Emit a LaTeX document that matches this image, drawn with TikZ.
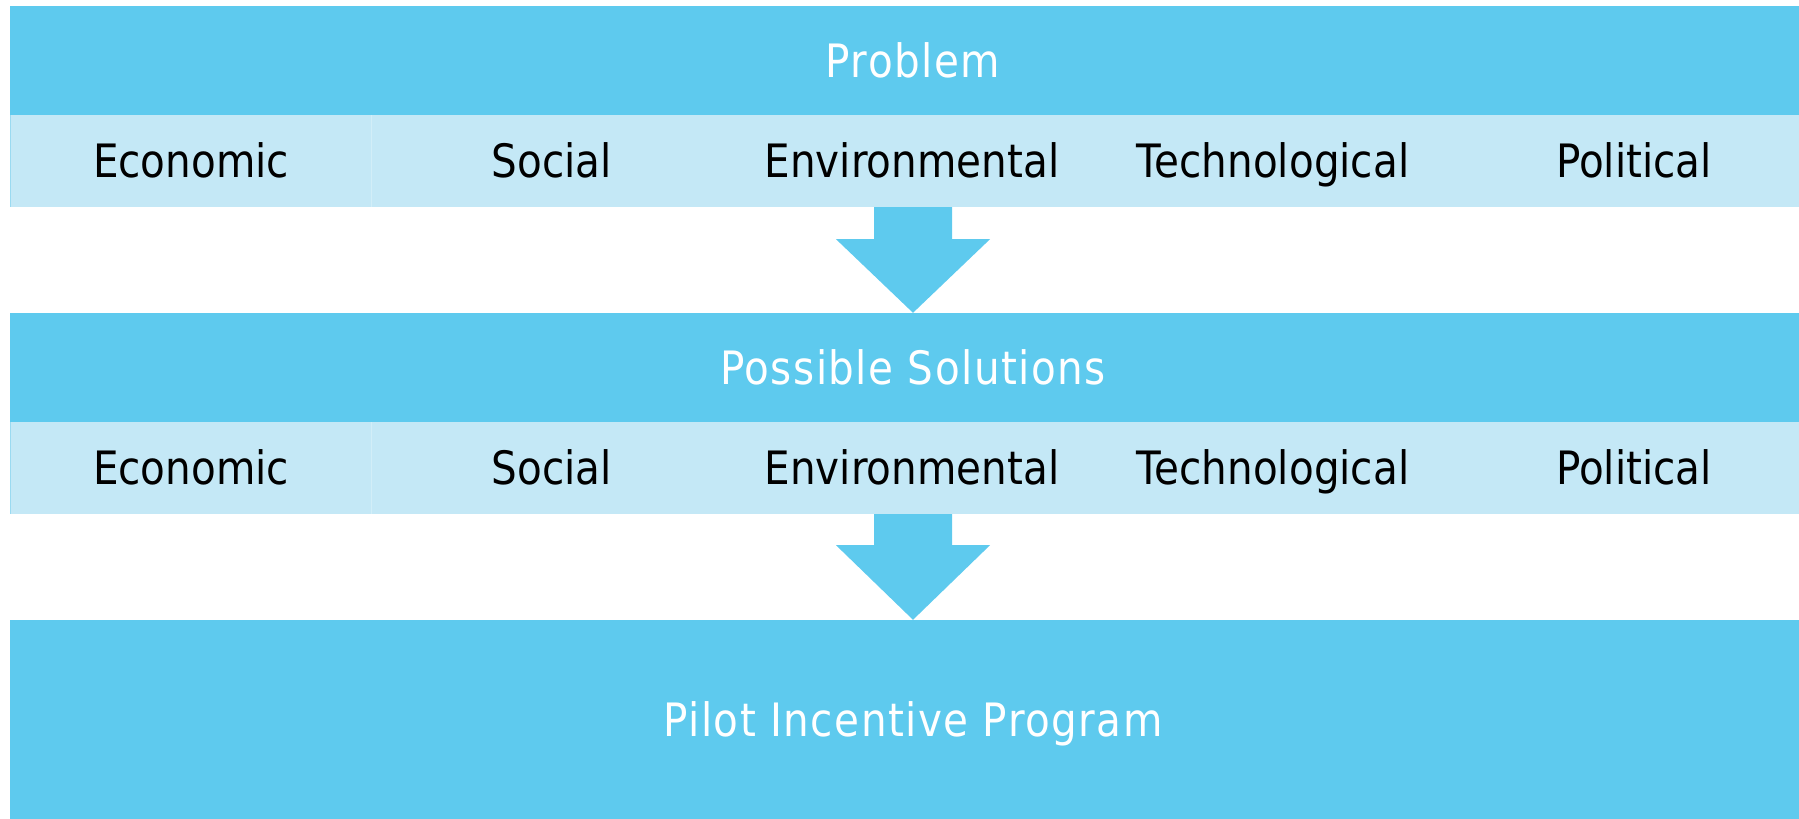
\documentclass[tikz,border=0pt]{standalone}
\usepackage{fontspec}
\setmainfont[FakeStretch=0.88]{DejaVu Sans}
\newfontfamily\bandfont[FakeStretch=0.88,LetterSpace=3.2]{DejaVu Sans}
\usetikzlibrary{calc}
\definecolor{bandblue}{HTML}{5ECAEE}
\definecolor{rowblue}{HTML}{C4E8F6}
\definecolor{rowedge}{HTML}{9ADAF1}
\definecolor{rowsep}{HTML}{D2EEF8}
\tikzset{
  band/.style={fill=bandblue, draw=none, minimum width=1806pt, inner sep=0pt,
    text=white, text height=33pt, text depth=0pt,
    font=\bandfont\fontsize{46pt}{50pt}\selectfont},
  lightrow/.style={fill=rowblue, draw=none, minimum width=1806pt, minimum height=92pt, inner sep=0pt},
  celltext/.style={inner sep=0pt, text=black, text height=33pt, text depth=0pt,
    font=\fontsize{46pt}{50pt}\selectfont},
  blockarrow/.style={fill=bandblue, draw=none}
}
\begin{document}
\begin{tikzpicture}[x=1pt,y=-1pt]
\useasboundingbox (0,0) rectangle (1799,819);
\clip (0,0) rectangle (1799,819);
% bands
\node[band, minimum height=109pt] (prob) at (913,60.5) {Problem};
\node[lightrow] (row1) at (913,161) {};
\node[band, minimum height=109pt] (sol) at (913,367.5) {Possible Solutions};
\node[lightrow] (row2) at (913,468) {};
\node[band, minimum height=199pt] (pilot) at (913,719.5) {Pilot Incentive Program};
% faint edges of the light rows
\foreach \r in {row1,row2}{
  \draw[rowedge, line width=1pt] ([xshift=0.5pt]\r.north west) -- ([xshift=0.5pt]\r.south west);
  \draw[rowsep, line width=1pt] ($(\r.north west)+(361.5,0)$) -- ($(\r.south west)+(361.5,0)$);
}
% cell labels
\node[celltext] (e1) at (191,161) {Economic};
\node[celltext] (s1) at (552,161) {Social};
\node[celltext] (v1) at (912,161) {Environmental};
\node[celltext] (t1) at (1273,161) {Technological};
\node[celltext] (p1) at (1634,161) {Political};
\node[celltext] (e2) at (191,468) {Economic};
\node[celltext] (s2) at (552,468) {Social};
\node[celltext] (v2) at (912,468) {Environmental};
\node[celltext] (t2) at (1273,468) {Technological};
\node[celltext] (p2) at (1634,468) {Political};
% block arrows
\fill[blockarrow] ([xshift=-39pt]row1.south) -- ([xshift=-39pt,yshift=-32pt]row1.south)
  -- ([xshift=-77pt,yshift=-32pt]row1.south) -- (sol.north)
  -- ([xshift=77pt,yshift=-32pt]row1.south) -- ([xshift=39pt,yshift=-32pt]row1.south)
  -- ([xshift=39pt]row1.south) -- cycle;
\fill[blockarrow] ([xshift=-39pt]row2.south) -- ([xshift=-39pt,yshift=-31pt]row2.south)
  -- ([xshift=-77pt,yshift=-31pt]row2.south) -- (pilot.north)
  -- ([xshift=77pt,yshift=-31pt]row2.south) -- ([xshift=39pt,yshift=-31pt]row2.south)
  -- ([xshift=39pt]row2.south) -- cycle;
\end{tikzpicture}
\end{document}
